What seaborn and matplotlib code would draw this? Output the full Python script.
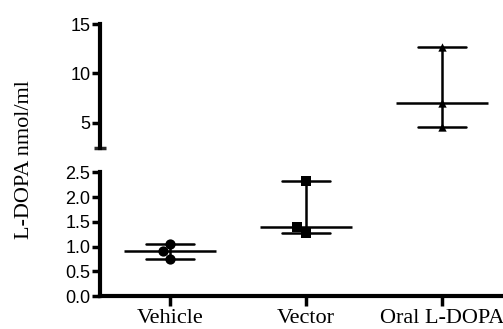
import numpy as np
import pandas as pd
import matplotlib
matplotlib.use("Agg")
import matplotlib.pyplot as plt
import seaborn as sns
from matplotlib.ticker import FixedLocator, FormatStrFormatter

# ---- data ----
groups = ["Vehicle", "Vector", "Oral L-DOPA"]
vehicle = [1.06, 0.75, 0.90]
vector = [2.32, 1.28, 1.40]
oral = [12.7, 7.0, 4.55]
top_ticks = [5, 10, 15]
bottom_ticks = [0.0, 0.5, 1.0, 1.5, 2.0, 2.5]
break_value = 2.5
top_max = 15
ylabel = "L-DOPA nmol/ml"

df = pd.DataFrame({
    "group": np.repeat(groups, 3),
    "value": vehicle + vector + oral,
})

sns.set_style("ticks")
plt.rcParams["font.family"] = ["Liberation Sans", "DejaVu Sans"]

fig = plt.figure(figsize=(5.03, 3.29), dpi=100)
ax_top = fig.add_axes([0.1988, 0.551, 0.8012, 0.376])
ax_bot = fig.add_axes([0.1988, 0.1003, 0.8012, 0.376])

markers = {"Vehicle": "o", "Vector": "s", "Oral L-DOPA": "^"}
msize = {"Vehicle": 7.4, "Vector": 7.4, "Oral L-DOPA": 6.0}

limits = {ax_top: (break_value, top_max), ax_bot: (0, break_value)}

for ax, (lo, hi) in limits.items():
    sns.pointplot(data=df, x="group", y="value", order=groups,
                  estimator="median",
                  errorbar=lambda v: (np.min(v), np.max(v)),
                  capsize=0.35, color="black",
                  marker="_", markersize=66, markeredgewidth=1.8,
                  linestyle="none", err_kws={"linewidth": 1.8}, ax=ax)
    sub = df[(df["value"] >= lo) & (df["value"] <= hi)]
    for g in groups:
        part = sub[sub["group"] == g]
        if len(part):
            sns.swarmplot(data=part, x="group", y="value", order=groups,
                          marker=markers[g], size=msize[g], color="black",
                          linewidth=0, ax=ax)
    ax.set_ylim(lo, hi)
    ax.set_xlim(-0.515, 2.45)
    ax.set_xlabel("")
    ax.set_ylabel("")
    for s in ("top", "right"):
        ax.spines[s].set_visible(False)
    for s in ("left", "bottom"):
        ax.spines[s].set_linewidth(3)
        ax.spines[s].set_color("black")
    ax.tick_params(axis="y", which="major", direction="out", length=6,
                   width=2.5, pad=1, labelsize=13, colors="black")

# top panel
ax_top.spines["bottom"].set_visible(False)
ax_top.tick_params(axis="x", bottom=False, labelbottom=False)
ax_top.yaxis.set_major_locator(FixedLocator(top_ticks))
ax_top.yaxis.set_minor_locator(FixedLocator([break_value]))
ax_top.tick_params(axis="y", which="minor", direction="inout", length=8, width=2.5)

# bottom panel
ax_bot.yaxis.set_major_locator(FixedLocator(bottom_ticks))
ax_bot.yaxis.set_major_formatter(FormatStrFormatter("%.1f"))
ax_bot.yaxis.set_minor_locator(FixedLocator([break_value]))
ax_bot.tick_params(axis="y", which="minor", direction="in", length=4, width=2.5)
ax_bot.set_xticks(range(len(groups)))
ax_bot.set_xticklabels(groups, fontfamily="Liberation Serif", fontsize=16)
ax_bot.tick_params(axis="x", direction="out", length=7, width=2.5, pad=2,
                   colors="black")

fig.text(0.0487, 0.514, ylabel, rotation=90, ha="center", va="center",
         family="Liberation Serif", fontsize=16, color="black")

fig.savefig("out.png", dpi=100)
